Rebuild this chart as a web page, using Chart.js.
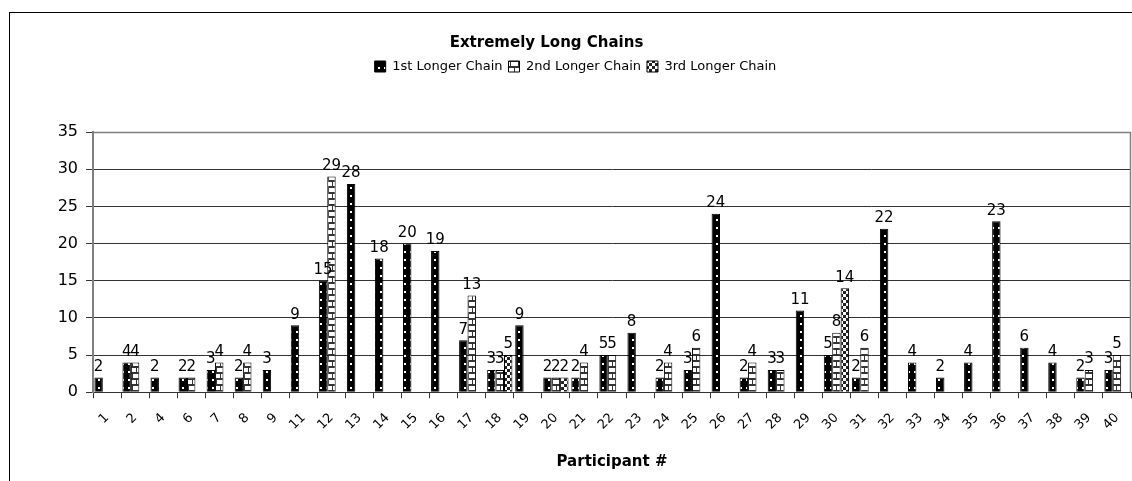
<!DOCTYPE html>
<html>
<head>
<meta charset="utf-8">
<script src="https://cdn.jsdelivr.net/npm/chart.js@4"></script>
<style>
  html, body { margin: 0; padding: 0; background: #fff; overflow: hidden; }
  #frame { position: absolute; left: 9px; top: 12px; width: 2000px; height: 2000px;
           border-left: 1px solid #000; border-top: 1px solid #000; }
  #wrap { position: absolute; left: 0; top: 0; width: 1132px; height: 481px; }
</style>
</head>
<body>
<div id="frame"></div>
<div id="wrap"><canvas id="chains"></canvas></div>
<script>
var categories = ['1', '2', '4', '6', '7', '8', '9', '11', '12', '13', '14', '15', '16', '17', '18', '19',
	'20', '21', '22', '23', '24', '25', '26', '27', '28', '29', '30', '31', '32', '33', '34', '35', '36',
	'37', '38', '39', '40'];

var firstChain = [2, 4, 2, 2, 3, 2, 3, 9, 15, 28, 18, 20, 19, 7, 3, 9, 2, 2, 5, 8, 2, 3, 24, 2, 3, 11,
	5, 2, 22, 4, 2, 4, 23, 6, 4, 2, 3];

var secondChain = [null, 4, null, 2, 4, 4, null, null, 29, null, null, null, null, 13, 3, null, 2, 4, 5,
	null, 4, 6, null, 4, 3, null, 8, 6, null, null, null, null, null, null, null, 3, 5];

var thirdChain = [null, null, null, null, null, null, null, null, null, null, null, null, null, null, 5,
	null, 2, null, null, null, null, null, null, null, null, null, 14, null, null, null, null, null, null,
	null, null, null, null];

var seriesNames = ['1st Longer Chain', '2nd Longer Chain', '3rd Longer Chain'];

// small tiled fills that imitate the print patterns
function makePattern(w, h, paint) {
	var c = document.createElement('canvas');
	c.width = w;
	c.height = h;
	var g = c.getContext('2d');
	paint(g);
	return document.getElementById('chains').getContext('2d').createPattern(c, 'repeat');
}

var dotsFill = makePattern(6, 8, function(g) {
	g.fillStyle = '#000';
	g.fillRect(0, 0, 6, 8);
	g.fillStyle = '#fff';
	g.fillRect(2, 3, 2, 2);
});

var brickFill = makePattern(8, 12, function(g) {
	g.fillStyle = '#fff';
	g.fillRect(0, 0, 8, 12);
	g.fillStyle = '#333';
	g.fillRect(0, 0, 8, 2);
	g.fillRect(0, 6, 8, 2);
	g.fillRect(4, 0, 1, 6);
	g.fillRect(0, 6, 1, 6);
});

var checkFill = makePattern(6, 6, function(g) {
	g.fillStyle = '#fff';
	g.fillRect(0, 0, 6, 6);
	g.fillStyle = '#222';
	g.fillRect(0, 0, 3, 3);
	g.fillRect(3, 3, 3, 3);
});

var valueLabels = {
	id: 'valueLabels',
	afterDatasetsDraw: function(chart) {
		var ctx = chart.ctx;
		ctx.save();
		ctx.font = '15px "DejaVu Sans"';
		ctx.fillStyle = '#000';
		ctx.textAlign = 'center';
		ctx.textBaseline = 'bottom';
		chart.data.datasets.forEach(function(ds, i) {
			chart.getDatasetMeta(i).data.forEach(function(bar, j) {
				if (ds.data[j] === null) return;
				ctx.fillText(ds.data[j], bar.x, bar.y - 3);
			});
		});
		ctx.restore();
	}
};

var plotBorder = {
	id: 'plotBorder',
	afterDraw: function(chart) {
		var a = chart.chartArea;
		var ctx = chart.ctx;
		ctx.save();
		ctx.strokeStyle = '#808080';
		ctx.lineWidth = 1.5;
		ctx.beginPath();
		ctx.moveTo(a.left, a.top + 0.5);
		ctx.lineTo(a.right - 0.5, a.top + 0.5);
		ctx.lineTo(a.right - 0.5, a.bottom);
		ctx.stroke();
		ctx.restore();
	}
};

// extra room under the legend, and the off-centre title / legend of the original
function shiftDraw(box, dx) {
	var draw = box.draw;
	box.draw = function() {
		this.ctx.save();
		this.ctx.translate(dx, 0);
		draw.apply(this, arguments);
		this.ctx.restore();
	};
}

var headerTweak = {
	id: 'headerTweak',
	beforeInit: function(chart) {
		var fit = chart.legend.fit;
		chart.legend.fit = function() {
			fit.call(this);
			this.height += 49;
		};
		shiftDraw(chart.legend, 10);
		shiftDraw(chart.titleBlock, -19);
	}
};

Chart.defaults.font.family = '"DejaVu Sans"';
Chart.defaults.color = '#000';

var chainData = {
	labels: categories,
	datasets: [{
		label: seriesNames[0],
		data: firstChain,
		backgroundColor: dotsFill,
		borderColor: '#000',
		borderWidth: 1
	}, {
		label: seriesNames[1],
		data: secondChain,
		backgroundColor: brickFill,
		borderColor: '#000',
		borderWidth: 1
	}, {
		label: seriesNames[2],
		data: thirdChain,
		backgroundColor: checkFill,
		borderColor: '#000',
		borderWidth: 1
	}]
};

new Chart(document.getElementById('chains'), {
	type: 'bar',
	data: chainData,
	plugins: [valueLabels, plotBorder, headerTweak],
	options: {
		responsive: true,
		maintainAspectRatio: false,
		animation: false,
		layout: { padding: { top: 30, right: 1, bottom: 10, left: 0 } },
		datasets: {
			bar: { categoryPercentage: 0.9, barPercentage: 1 }
		},
		plugins: {
			title: {
				display: true,
				text: 'Extremely Long Chains',
				font: { size: 15, weight: 'bold' },
				padding: { top: 4, bottom: 2 }
			},
			legend: {
				position: 'top',
				labels: {
					boxWidth: 11,
					boxHeight: 11,
					padding: 6,
					font: { size: 13 }
				}
			},
			tooltip: { enabled: false }
		},
		scales: {
			x: {
				offset: true,
				grid: {
					offset: true,
					drawOnChartArea: false,
					tickLength: 6,
					color: '#333'
				},
				border: { color: '#333', width: 1 },
				ticks: {
					minRotation: 45,
					maxRotation: 45,
					autoSkip: false,
					padding: 12,
					font: { size: 13 }
				},
				title: {
					display: true,
					text: 'Participant #',
					font: { size: 15, weight: 'bold' },
					padding: { top: 8, bottom: 0 }
				},
				afterFit: function(scale) {
					scale.paddingRight = 0;
				}
			},
			y: {
				min: 0,
				max: 35,
				ticks: { stepSize: 5, padding: 8, font: { size: 16 } },
				grid: { color: '#333', tickLength: 7 },
				border: { color: '#808080', width: 2 },
				afterFit: function(scale) { scale.width = 93; }
			}
		}
	}
});
</script>
</body>
</html>
